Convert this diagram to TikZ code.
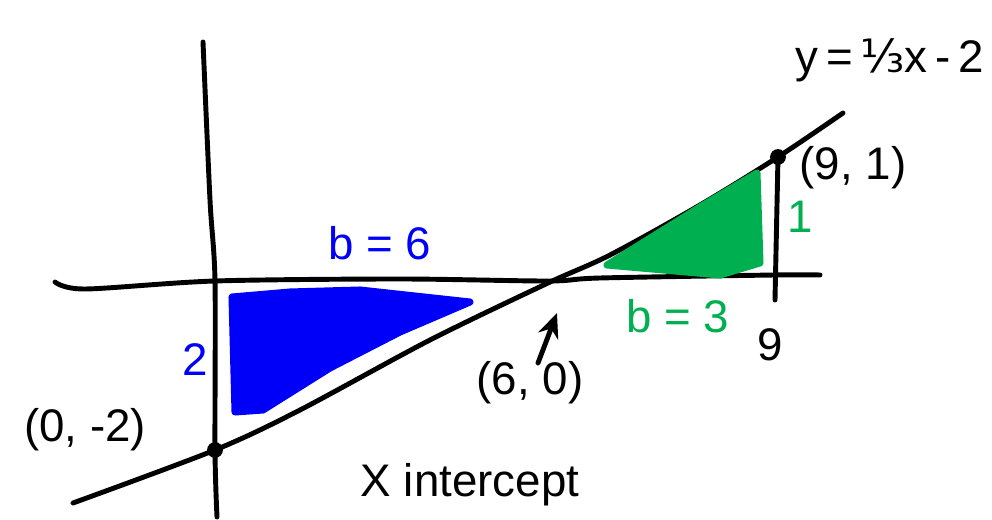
\documentclass[tikz,border=0pt]{standalone}
\usepackage{fontspec}
\setmainfont{Liberation Sans}
\newfontfamily\fracfont{DejaVu Sans}
\usetikzlibrary{positioning,arrows.meta}
\definecolor{inkblue}{RGB}{0,0,250}
\definecolor{inkgreen}{RGB}{0,176,80}
\begin{document}
\begin{tikzpicture}[
    x=0.02cm, y=-0.02cm,
    ink/.style={line width=2.8pt, line cap=round, line join=round},
    lbl/.style={font=\fontsize{26}{30}\selectfont, inner sep=0pt},
    dot/.style={circle, fill, inner sep=0pt, minimum size=9pt},
    shade/.style={line width=4pt, line join=round}
]
\useasboundingbox (0,0) rectangle (992,520);

\coordinate (yint) at (215,450);
\coordinate (xint) at (548,283);
\coordinate (pt91) at (778,157);
\coordinate (foot9) at (775,300);
\coordinate (arrtail) at (538,363);
\coordinate (arrtip) at (557,313);

\draw[ink] plot[smooth] coordinates {(55,282) (85,289) (215,281) (400,279) (548,281) (600,278) (775,275) (820,275)};
\draw[ink] plot[smooth] coordinates {(203,42) (210,200) (215,281) (215,450) (217,517)};
\draw[ink] plot[smooth] coordinates {(73,503) (215,450) (300,410) (430,340) (548,283) (610,255) (700,205) (778,157) (843,113)};
\draw[ink] (pt91) -- (foot9);
\node[dot] at (yint) {};
\node[dot] at (pt91) {};

\filldraw[shade, inkblue] (232,297) -- (290,292) -- (360,290) -- (470,302) -- (400,332) -- (330,368) -- (263,410) -- (235,412) -- cycle;
\filldraw[shade, inkgreen] (607,265) -- (700,207) -- (757,173) -- (760,263) -- (720,275) -- cycle;

\node[lbl, anchor=east] (eqn) at (984,60) {y\,=\,{\fracfont ⅓}x\,-\,2};
\node[lbl] (lbl91) at (853,168) {(9, 1)};
\node[lbl, inkgreen] (h1) at (800,217) {1};
\node[lbl, inkgreen] (b3) at (678,316) {b = 3};
\node[lbl] (nine) at (770,345) {9};
\node[lbl, inkblue] (b6) at (380,243) {b = 6};
\node[lbl, inkblue] (h2) at (195,360) {2};
\node[lbl] (lbl02) at (85,430) {(0, -2)};
\node[lbl] (lbl60) at (530,383) {(6, 0)};
\node[lbl] (xlabel) at (470,485) {X intercept};

\draw[ink, -{Stealth[length=14pt, width=12pt]}] (arrtail) -- (arrtip);
\end{tikzpicture}
\end{document}
